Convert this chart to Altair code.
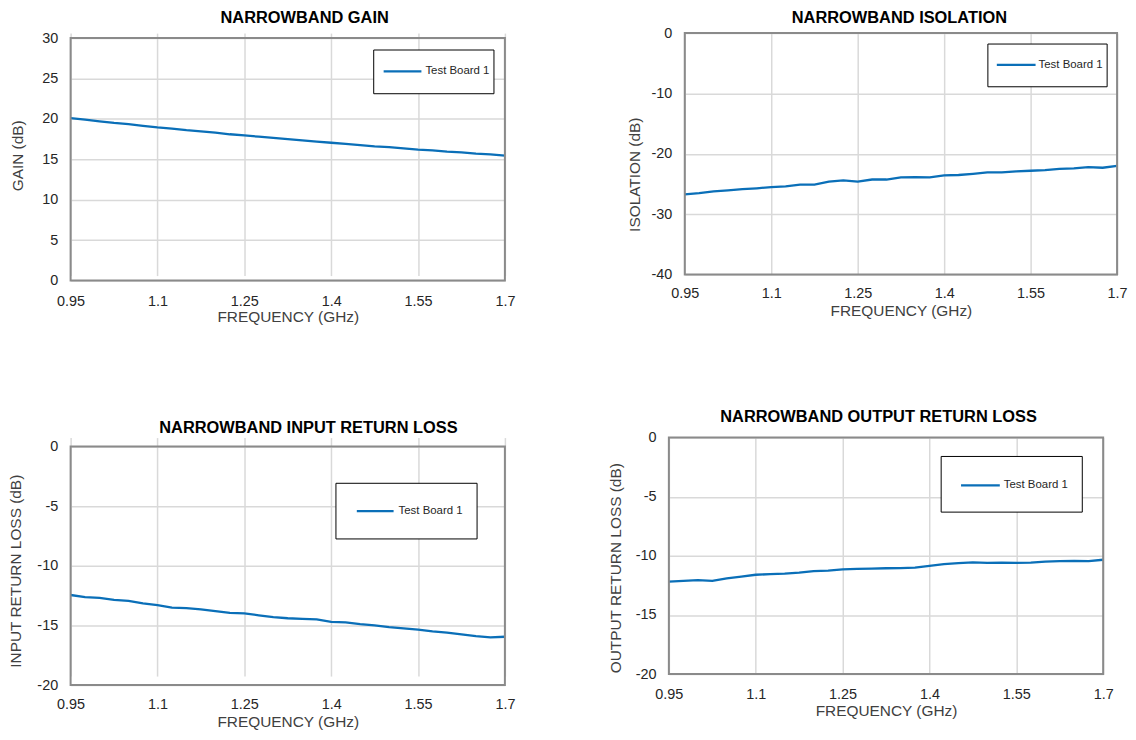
import altair as alt
import pandas as pd

# ---------------- data ----------------
freq = [0.95, 0.975, 1.0, 1.025, 1.05, 1.075, 1.1, 1.125, 1.15, 1.175, 1.2,
        1.225, 1.25, 1.275, 1.3, 1.325, 1.35, 1.375, 1.4, 1.425, 1.45, 1.475,
        1.5, 1.525, 1.55, 1.575, 1.6, 1.625, 1.65, 1.675, 1.7]
gain = [20.1, 19.9, 19.7, 19.5, 19.35, 19.15, 18.95, 18.8, 18.6, 18.45, 18.3,
        18.1, 17.95, 17.8, 17.65, 17.5, 17.35, 17.2, 17.05, 16.9, 16.75, 16.6,
        16.5, 16.35, 16.2, 16.1, 15.95, 15.85, 15.7, 15.6, 15.45]
isolation = [-26.7, -26.5, -26.2, -26.05, -25.85, -25.7, -25.5, -25.4, -25.1, -25.1, -24.6,
             -24.4, -24.6, -24.25, -24.25, -23.9, -23.85, -23.9, -23.55, -23.5, -23.3, -23.05,
             -23.05, -22.9, -22.8, -22.7, -22.5, -22.4, -22.2, -22.3, -22.0]
input_rl = [-12.45, -12.62, -12.7, -12.85, -12.95, -13.15, -13.3, -13.5, -13.55, -13.65, -13.8,
            -13.95, -14.0, -14.15, -14.3, -14.4, -14.45, -14.5, -14.7, -14.75, -14.9, -15.0,
            -15.15, -15.25, -15.35, -15.5, -15.6, -15.75, -15.9, -16.0, -15.95]
output_rl = [-12.18, -12.12, -12.05, -12.12, -11.9, -11.75, -11.6, -11.55, -11.5, -11.42, -11.3,
             -11.25, -11.15, -11.1, -11.08, -11.05, -11.03, -11.0, -10.85, -10.7, -10.62, -10.55,
             -10.6, -10.58, -10.6, -10.57, -10.48, -10.45, -10.43, -10.45, -10.33]

series = [gain, isolation, input_rl, output_rl]
titles = ["NARROWBAND GAIN", "NARROWBAND ISOLATION",
          "NARROWBAND INPUT RETURN LOSS", "NARROWBAND OUTPUT RETURN LOSS"]
y_titles = ["GAIN (dB)", "ISOLATION (dB)", "INPUT RETURN LOSS (dB)", "OUTPUT RETURN LOSS (dB)"]
y_domains = [[0, 30], [-40, 0], [-20, 0], [-20, 0]]
y_ticks = [[0, 5, 10, 15, 20, 25, 30], [-40, -30, -20, -10, 0],
           [-20, -15, -10, -5, 0], [-20, -15, -10, -5, 0]]
x_ticks = [0.95, 1.1, 1.25, 1.4, 1.55, 1.7]
x_title = "FREQUENCY (GHz)"
legend_label = "Test Board 1"

# ---------------- styling / layout ----------------
BLUE = "#0a6fb8"
FRAME = "#8a8a8a"
FONT = "Liberation Sans"

# off = plot top inside the panel group, h = plot height
geoms = [
    dict(w=437, h=244, off=5, box=(-62, -23, 495, 351), title=(235.5, -15),
         leg=(305, 17, 426, 61), legline=(315, 353, 38.5), legtext=357,
         ytp=16, yty=123, xlp=14, xtp=2),
    dict(w=435, h=243, off=0, box=(-123, -23, 444, 351), title=(216, -15),
         leg=(305, 11, 425, 54), legline=(314, 353, 32), legtext=356,
         ytp=9, yty=142, xlp=12.5, xtp=3),
    dict(w=437, h=240, off=9, box=(-61, -56, 491, 294), title=(239.3, -10),
         leg=(267, 46, 409, 102), legline=(288, 325, 74), legtext=330,
         ytp=13.5, yty=134, xlp=12.5, xtp=4),
    dict(w=437, h=238, off=0, box=(-111, -56, 461, 294), title=(211, -21),
         leg=(274, 19, 416, 75), legline=(294, 333, 48), legtext=337,
         ytp=12, yty=131, xlp=13.5, xtp=3),
]


def panel(i):
    g = geoms[i]
    gh = g["h"] + g["off"]
    df = pd.DataFrame({"freq": freq, "val": series[i]})
    x = alt.X("freq:Q",
              scale=alt.Scale(domain=[0.95, 1.7], nice=False, zero=False),
              axis=alt.Axis(values=x_ticks, labelExpr="'' + datum.value",
                            title=x_title, labelPadding=g["xlp"],
                            titlePadding=g["xtp"], labelFlush=False))
    y = alt.Y("val:Q",
              scale=alt.Scale(domain=y_domains[i], nice=False, zero=False,
                              range=[gh, g["off"]]),
              axis=alt.Axis(values=y_ticks[i], labelExpr="'' + datum.value",
                            title=y_titles[i], labelPadding=13,
                            titlePadding=g["ytp"], titleY=g["yty"],
                            labelFlush=False))
    line = alt.Chart(df).mark_line(color=BLUE, strokeWidth=2.3).encode(x=x, y=y)

    one = pd.DataFrame({"label": [legend_label], "title": [titles[i]]})
    l, t, r, b = g["box"]
    spacer = alt.Chart(one).mark_rect(opacity=0).encode(
        x=alt.value(l), x2=alt.value(r), y=alt.value(t), y2=alt.value(b))
    frame = alt.Chart(one).mark_rect(filled=False, stroke=FRAME, strokeWidth=2).encode(
        x=alt.value(0), x2=alt.value(g["w"]), y=alt.value(g["off"]), y2=alt.value(gh))
    lx1, ly1, lx2, ly2 = g["leg"]
    box = alt.Chart(one).mark_rect(fill="white", stroke="black", strokeWidth=1).encode(
        x=alt.value(lx1), x2=alt.value(lx2), y=alt.value(ly1), y2=alt.value(ly2))
    sx1, sx2, sy = g["legline"]
    legline = alt.Chart(one).mark_rule(color=BLUE, strokeWidth=2.3).encode(
        x=alt.value(sx1), x2=alt.value(sx2), y=alt.value(sy))
    legtext = alt.Chart(one).mark_text(
        align="left", baseline="middle", font=FONT, fontSize=11.5, color="#262626").encode(
        x=alt.value(g["legtext"]), y=alt.value(sy), text="label:N")
    tx, ty = g["title"]
    title = alt.Chart(one).mark_text(
        align="center", baseline="middle", font=FONT, fontSize=16.5,
        fontWeight="bold", color="black").encode(
        x=alt.value(tx), y=alt.value(ty), text="title:N")
    return alt.layer(spacer, line, frame, box, legline, legtext, title).properties(
        width=g["w"], height=gh)


row1 = alt.hconcat(panel(0), panel(1), spacing=0)
row2 = alt.hconcat(panel(2), panel(3), spacing=0)

chart = alt.vconcat(row1, row2, spacing=0).properties(padding=0).configure_view(
    strokeWidth=0
).configure_axis(
    domain=False, ticks=False, tickSize=0, grid=True,
    gridColor="#d9d9d9", gridWidth=1.5,
    labelFont=FONT, labelFontSize=14.5, labelColor="#262626",
    titleFont=FONT, titleFontSize=15.5, titleFontWeight="normal", titleColor="#404040",
)

chart.save("out.html", embed_options={"renderer": "svg", "actions": False})
